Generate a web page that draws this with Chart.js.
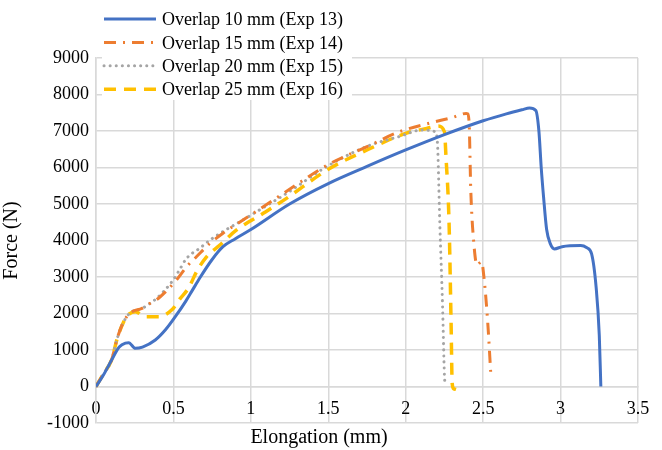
<!DOCTYPE html>
<html>
<head>
<meta charset="utf-8">
<script src="https://cdn.jsdelivr.net/npm/chart.js@4.4.1/dist/chart.umd.min.js"></script>
<style>
  html, body { margin: 0; padding: 0; background: #fff; }
  #wrap { width: 662px; height: 450px; position: relative; }
</style>
</head>
<body>
<div id="wrap"><canvas id="chart"></canvas></div>
<script>
// Data: elongasi (mm) dan gaya (N)
const labels = ['Overlap 10 mm (Exp 13)', 'Overlap 15 mm (Exp 14)', 'Overlap 20 mm (Exp 15)', 'Overlap 25 mm (Exp 16)'];

const elong10 = [0, 0.05, 0.10, 0.15, 0.19, 0.211, 0.254, 0.30, 0.383, 0.45, 0.512, 0.58, 0.62, 0.671, 0.75, 0.82, 0.90, 1.0, 1.25, 1.5, 1.75, 2.0, 2.25, 2.5, 2.65, 2.75, 2.80, 2.84, 2.86, 2.875, 2.89, 2.91, 2.935, 2.96, 3.01, 3.13, 3.17, 3.2, 3.23, 3.25, 3.26];
const force10 = [0, 330, 720, 1080, 1190, 1200, 1046, 1080, 1274, 1560, 1912, 2340, 2620, 2980, 3480, 3830, 4050, 4300, 5000, 5560, 6030, 6480, 6900, 7280, 7470, 7580, 7630, 7560, 7000, 6000, 5200, 4300, 3900, 3770, 3830, 3860, 3800, 3640, 2700, 1400, 0];

const elong15 = [0, 0.05, 0.10, 0.136, 0.16, 0.179, 0.205, 0.232, 0.297, 0.35, 0.392, 0.45, 0.52, 0.585, 0.65, 0.736, 0.82, 0.92, 1.016, 1.21, 1.5, 1.75, 1.96, 2.16, 2.3, 2.39, 2.40, 2.41, 2.42, 2.44, 2.46, 2.49, 2.505, 2.53, 2.55];
const force15 = [0, 360, 720, 1300, 1600, 1776, 1950, 2050, 2140, 2280, 2380, 2600, 2920, 3280, 3560, 3920, 4200, 4480, 4745, 5290, 6080, 6570, 6980, 7220, 7370, 7480, 7470, 7160, 5400, 3920, 3330, 3420, 3000, 1730, 300];

const elong20 = [0, 0.05, 0.10, 0.136, 0.16, 0.179, 0.205, 0.232, 0.297, 0.35, 0.392, 0.44, 0.49, 0.53, 0.585, 0.671, 0.736, 0.83, 0.93, 1.08, 1.231, 1.5, 1.75, 1.96, 2.11, 2.19, 2.205, 2.22, 2.238, 2.25, 2.255];
const force20 = [0, 360, 720, 1300, 1600, 1776, 1950, 2050, 2140, 2280, 2415, 2620, 2870, 3130, 3510, 3790, 4010, 4270, 4515, 4900, 5290, 6050, 6580, 6850, 7030, 6980, 6660, 4470, 2190, 300, 30];

const elong25 = [0, 0.05, 0.10, 0.136, 0.179, 0.215, 0.254, 0.318, 0.405, 0.49, 0.542, 0.598, 0.65, 0.715, 0.80, 0.908, 1.08, 1.23, 1.5, 1.75, 2.0, 2.135, 2.21, 2.25, 2.26, 2.28, 2.293, 2.30, 2.31, 2.325];
const force25 = [0, 360, 720, 1300, 1776, 1990, 2050, 1912, 1912, 2100, 2400, 2700, 3150, 3560, 3875, 4290, 4745, 5155, 5950, 6480, 6935, 7070, 7135, 6980, 6300, 4470, 1730, 90, -60, -80];

const colors = ['#4472C4', '#ED7D31', '#A5A5A5', '#FFC000'];
const dashes = [[], [12, 7, 2, 7], [0.1, 6], [12, 8]];
const widths = [3, 3, 3, 3.5];
const caps = ['butt', 'butt', 'round', 'butt'];

const xTicks = [0, 0.5, 1, 1.5, 2, 2.5, 3, 3.5];
const yTicks = [-1000, 0, 1000, 2000, 3000, 4000, 5000, 6000, 7000, 8000, 9000];

const FONT = '"Liberation Serif", "Times New Roman", serif';

function toPoints(xs, ys) {
    return xs.map((x, i) => ({ x: x, y: ys[i] }));
}

const series = [
    toPoints(elong10, force10),
    toPoints(elong15, force15),
    toPoints(elong20, force20),
    toPoints(elong25, force25)
];

// Legenda manual (sebagian berada di atas area plot, seperti gambar)
const legendPlugin = {
    id: 'manualLegend',
    afterDraw(chart) {
        const ctx = chart.ctx;
        ctx.save();
        ctx.fillStyle = '#fff';
        ctx.fillRect(102, 6, 250, 94);
        labels.forEach((text, i) => {
            const y = 19 + i * 23.4;
            ctx.beginPath();
            ctx.strokeStyle = colors[i];
            ctx.lineWidth = widths[i];
            ctx.lineCap = caps[i];
            ctx.setLineDash(dashes[i]);
            ctx.moveTo(104, y);
            ctx.lineTo(156, y);
            ctx.stroke();
            ctx.setLineDash([]);
            ctx.fillStyle = '#000';
            ctx.font = '18px ' + FONT;
            ctx.textBaseline = 'middle';
            ctx.textAlign = 'left';
            ctx.fillText(text, 162, y + 1.5);
        });
        ctx.restore();
    }
};

const ctx = document.getElementById('chart').getContext('2d');
const chart = new Chart(ctx, {
    type: 'scatter',
    data: {
        datasets: series.map((pts, i) => ({
            label: labels[i],
            data: pts,
            showLine: true,
            borderColor: colors[i],
            backgroundColor: colors[i],
            borderWidth: widths[i],
            borderDash: dashes[i],
            borderCapStyle: caps[i],
            pointRadius: 0,
            cubicInterpolationMode: 'monotone'
        }))
    },
    options: {
        responsive: true,
        maintainAspectRatio: false,
        animation: false,
        layout: { padding: { left: 0, right: 24, top: 58, bottom: 0 } },
        plugins: {
            legend: { display: false },
            tooltip: { enabled: false },
            title: {
                display: true,
                position: 'bottom',
                text: 'Elongation (mm)',
                color: '#000',
                font: { family: FONT, size: 20, weight: 'normal' },
                padding: { top: 3, bottom: 0 }
            }
        },
        scales: {
            x: {
                type: 'linear',
                position: { y: 0 },
                min: 0,
                max: 3.5,
                afterBuildTicks: s => { s.ticks = xTicks.map(v => ({ value: v })); },
                ticks: {
                    color: '#000',
                    font: { family: FONT, size: 18 },
                    padding: 12,
                    maxRotation: 0,
                    callback: v => String(v)
                },
                grid: { color: '#d9d9d9', lineWidth: 1.5, drawTicks: false },
                border: { color: '#d9d9d9', width: 1.5 }
            },
            y: {
                type: 'linear',
                min: -1000,
                max: 9000,
                afterFit: s => { s.width = 96; },
                afterBuildTicks: s => { s.ticks = yTicks.map(v => ({ value: v })); },
                ticks: {
                    color: '#000',
                    font: { family: FONT, size: 18 },
                    padding: 7,
                    callback: v => String(v)
                },
                grid: { color: '#d9d9d9', lineWidth: 1.5, drawTicks: false },
                border: { color: '#d9d9d9', width: 1.5 },
                title: {
                    display: true,
                    text: 'Force (N)',
                    color: '#000',
                    font: { family: FONT, size: 20 },
                    padding: { top: 0, bottom: 10 }
                }
            }
        }
    },
    plugins: [legendPlugin]
});
</script>
</body>
</html>
